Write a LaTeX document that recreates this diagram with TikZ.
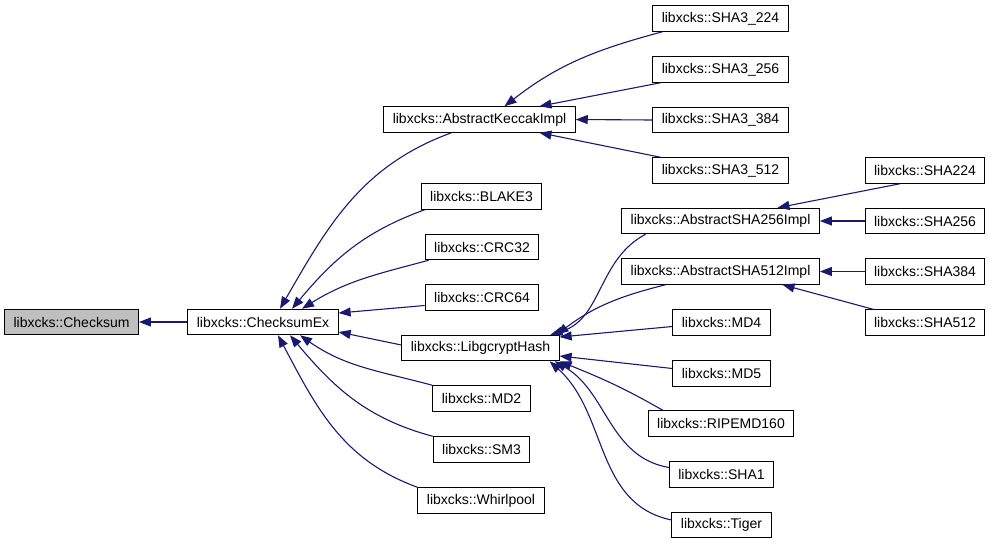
\documentclass[tikz,border=0pt]{standalone}
\usepackage{fontspec}
\setmainfont{Liberation Sans}
\usetikzlibrary{arrows.meta}

\definecolor{edgeblue}{HTML}{191970}
\definecolor{basegray}{HTML}{BFBFBF}

\tikzset{
  cls/.style={draw=black, fill=white, line width=1pt, minimum height=25.5pt,
    inner xsep=9pt, inner ysep=0pt, font=\fontsize{14}{16}\selectfont},
  inh/.style={draw=edgeblue, line width=1.1pt, {Triangle[length=12pt,width=9pt]}-}
}

\begin{document}
\begin{tikzpicture}[x=1pt,y=-1pt]
\useasboundingbox (0,0) rectangle (992,544);

\node[cls, fill=basegray] (cs) at (71.5,322) {libxcks::Checksum};
\node[cls] (cex) at (263,322) {libxcks::ChecksumEx};

\node[cls] (kk)  at (479.5,119.5) {libxcks::AbstractKeccakImpl};
\node[cls] (bl)  at (481.5,196.5) {libxcks::BLAKE3};
\node[cls] (c32) at (482,247)     {libxcks::CRC32};
\node[cls] (c64) at (482,297.5)   {libxcks::CRC64};
\node[cls] (lh)  at (480.5,348)   {libxcks::LibgcryptHash};
\node[cls] (md2) at (481.5,398.5) {libxcks::MD2};
\node[cls] (sm3) at (481.5,449.5) {libxcks::SM3};
\node[cls] (wp)  at (481,500.5)   {libxcks::Whirlpool};

\node[cls] (s3a) at (720.5,18.5)  {libxcks::SHA3\_224};
\node[cls] (s3b) at (720.5,69.5)  {libxcks::SHA3\_256};
\node[cls] (s3c) at (720.5,120)   {libxcks::SHA3\_384};
\node[cls] (s3d) at (720.5,170.5) {libxcks::SHA3\_512};
\node[cls] (s256i) at (720.5,221)   {libxcks::AbstractSHA256Impl};
\node[cls] (s512i) at (720.5,271.5) {libxcks::AbstractSHA512Impl};
\node[cls] (md4) at (721.5,322.5) {libxcks::MD4};
\node[cls] (md5) at (721.5,373.5) {libxcks::MD5};
\node[cls] (rmd) at (721,423.5)   {libxcks::RIPEMD160};
\node[cls] (sha1) at (721.5,474.5) {libxcks::SHA1};
\node[cls] (tiger) at (721.5,525)  {libxcks::Tiger};

\node[cls] (sha224) at (925,170.5) {libxcks::SHA224};
\node[cls] (sha256) at (925,221)   {libxcks::SHA256};
\node[cls] (sha384) at (925,271.5) {libxcks::SHA384};
\node[cls] (sha512) at (925,322.5) {libxcks::SHA512};

\foreach \p/\c in {cs.east/cex.west, kk.east/s3c.west, s256i.east/sha256.west, s512i.east/sha384.west}
    \draw[inh] (\p) -- (\c);

% children of ChecksumEx
\draw[inh] ([xshift=17pt]cex.north) to[out=60,in=200] ([xshift=-28pt]kk.south);
\draw[inh] ([xshift=29pt]cex.north) to[out=50,in=200] ([xshift=4pt]bl.south west);
\draw[inh] ([xshift=39pt]cex.north) to[out=32,in=195] ([xshift=4pt]c32.south west);
\draw[inh] ([yshift=9pt]cex.east) -- ([yshift=-8pt]c64.west);
\draw[inh] ([yshift=-10pt]cex.east) -- ([yshift=3pt]lh.west);
\draw[inh] ([xshift=37pt]cex.south) to[out=-35,in=165] (md2.north west);
\draw[inh] ([xshift=27pt]cex.south) to[out=-50,in=165] (sm3.north west);
\draw[inh] ([xshift=15pt]cex.south) to[out=-62,in=160] (wp.north west);

% children of AbstractKeccakImpl
\draw[inh] ([xshift=25pt]kk.north) to[out=38,in=195] ([xshift=-58pt]s3a.south);
\draw[inh] ([xshift=60pt]kk.north) -- ([xshift=-60pt]s3b.south);
\draw[inh] ([xshift=60pt]kk.south) -- ([xshift=-60pt]s3d.north);

% children of LibgcryptHash
\draw[inh] ([xshift=70pt]lh.north) to[out=17,in=208] ([xshift=-75pt]s256i.south);
\draw[inh] ([xshift=76pt]lh.north) to[out=37,in=194] ([xshift=-55pt]s512i.south);
\draw[inh] ([yshift=11pt]lh.east) -- ([yshift=-4pt]md4.west);
\draw[inh] ([yshift=-8pt]lh.east) -- ([yshift=5pt]md5.west);
\draw[inh] (lh.south east) to[out=-22,in=150] ([xshift=15pt]rmd.north west);
\draw[inh] ([xshift=-5pt]lh.south east) to[out=-30,in=170] ([yshift=7pt]sha1.west);
\draw[inh] ([xshift=-10pt]lh.south east) to[out=-42,in=168] ([yshift=5pt]tiger.west);

% SHA-2 classes
\draw[inh] ([xshift=57pt]s256i.north) -- ([xshift=-25pt]sha224.south);
\draw[inh] ([xshift=62pt]s512i.south) -- ([xshift=-52pt]sha512.north);

\end{tikzpicture}
\end{document}
